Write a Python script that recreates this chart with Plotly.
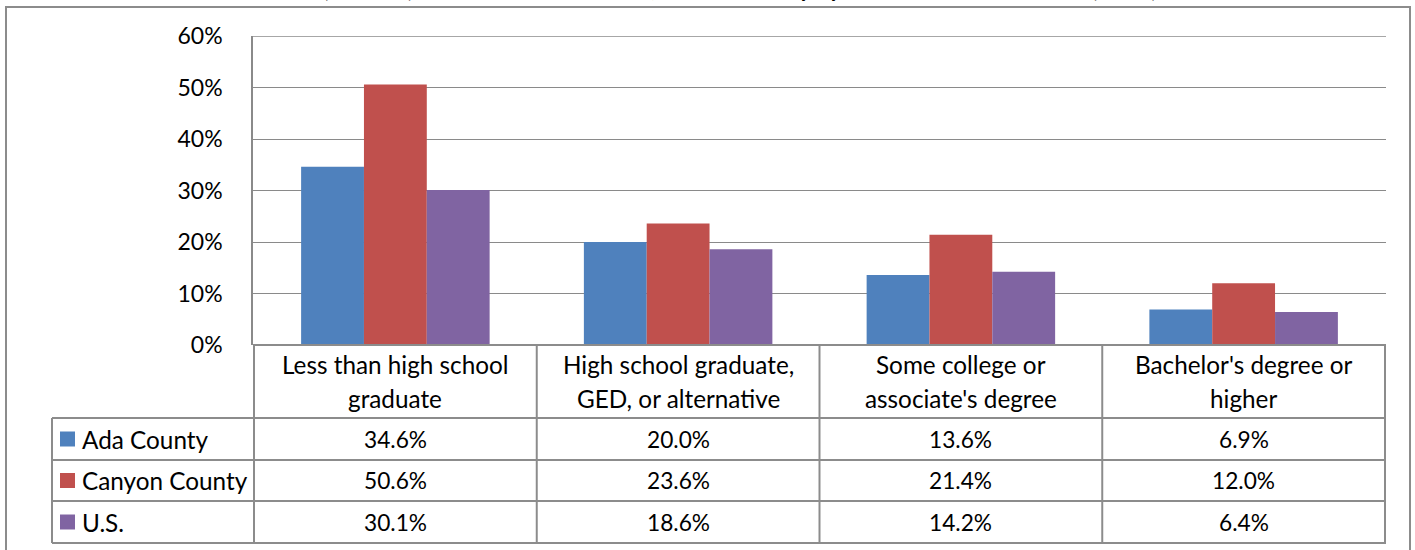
import plotly.graph_objects as go

# Educational attainment groups: header line 1 / line 2 in the data table
categories = [
    "Less than high school graduate",
    "High school graduate, GED, or alternative",
    "Some college or associate's degree",
    "Bachelor's degree or higher",
]
header_line1 = ["Less than high school", "High school graduate,", "Some college or", "Bachelor's degree or"]
header_line2 = ["graduate", "GED, or alternative", "associate's degree", "higher"]
series_names = ["Ada County", "Canyon County", "U.S."]
ada_county = [0.346, 0.200, 0.136, 0.069]
canyon_county = [0.506, 0.236, 0.214, 0.120]
us_total = [0.301, 0.186, 0.142, 0.064]
y_ticks = [0.0, 0.1, 0.2, 0.3, 0.4, 0.5, 0.6]

series_values = [ada_county, canyon_county, us_total]
colors = ["#4F81BD", "#C0504D", "#8064A2"]

W, H = 1415, 550
FONT = "Lato"
GRID = "#8a8a8a"
BORDER = "#8c8c8c"
TEXT_SIZE = 24.3
NUM_SIZE = 22.7


def px_x(p):
    return p / W


def px_y(p):
    return 1 - p / H


# Plot area / table geometry in pixels
PLOT_L, PLOT_R = 253, 1386
PLOT_T, PLOT_B = 36, 345
HEADER_B = 418
ROW_BOUNDS = [418, 460, 501, 543]
TABLE_L = 52

fig = go.Figure()
for name, vals, col in zip(series_names, series_values, colors):
    fig.add_trace(go.Bar(
        x=categories, y=vals, name=name, marker=dict(color=col, line=dict(width=0)),
        hoverinfo="skip",
    ))

shapes = []
annotations = []

# Outer chart frame
shapes.append(dict(type="rect", xref="paper", yref="paper",
                   x0=px_x(6), x1=px_x(1410), y0=px_y(7), y1=px_y(600),
                   line=dict(color=BORDER, width=2), fillcolor="rgba(0,0,0,0)", layer="below"))

# Gridline at the top of the value range
shapes.append(dict(type="line", xref="paper", yref="y",
                   x0=px_x(PLOT_L), x1=px_x(PLOT_R), y0=y_ticks[-1], y1=y_ticks[-1],
                   line=dict(color=GRID, width=1.5), layer="below"))

# Table: vertical lines at category boundaries
for i in range(len(categories) + 1):
    shapes.append(dict(type="line", xref="x", yref="paper",
                       x0=i - 0.5, x1=i - 0.5, y0=px_y(PLOT_B), y1=px_y(ROW_BOUNDS[-1]),
                       line=dict(color=BORDER, width=2)))
# Table: left border of the legend column
shapes.append(dict(type="line", xref="paper", yref="paper",
                   x0=px_x(TABLE_L), x1=px_x(TABLE_L), y0=px_y(HEADER_B), y1=px_y(ROW_BOUNDS[-1]),
                   line=dict(color=BORDER, width=2)))
# Table: top line of the header row (category axis baseline)
shapes.append(dict(type="line", xref="paper", yref="paper",
                   x0=px_x(PLOT_L), x1=px_x(PLOT_R), y0=px_y(PLOT_B), y1=px_y(PLOT_B),
                   line=dict(color=BORDER, width=2)))
# Table: row lines
for yb in ROW_BOUNDS:
    shapes.append(dict(type="line", xref="paper", yref="paper",
                       x0=px_x(TABLE_L), x1=px_x(PLOT_R), y0=px_y(yb), y1=px_y(yb),
                       line=dict(color=BORDER, width=2)))

# Header row: category names on two lines
for c, cat in enumerate(categories):
    for line_text, yc in ((header_line1[c], 364), (header_line2[c], 398)):
        annotations.append(dict(xref="x", yref="paper", x=cat, y=px_y(yc),
                                text=line_text, showarrow=False,
                                xanchor="center", yanchor="middle",
                                font=dict(family=FONT, size=TEXT_SIZE, color="#000000")))

# Table rows: legend keys, series names and values
for r, (name, vals, col) in enumerate(zip(series_names, series_values, colors)):
    y_top, y_bot = ROW_BOUNDS[r], ROW_BOUNDS[r + 1]
    yc = (y_top + y_bot) / 2
    shapes.append(dict(type="rect", xref="paper", yref="paper",
                       x0=px_x(60), x1=px_x(75), y0=px_y(yc - 7.5), y1=px_y(yc + 7.5),
                       fillcolor=col, line=dict(width=0)))
    annotations.append(dict(xref="paper", yref="paper", x=px_x(80), y=px_y(yc),
                            text=name, showarrow=False, xanchor="left", yanchor="middle",
                            font=dict(family=FONT, size=TEXT_SIZE, color="#000000")))
    for c, v in enumerate(vals):
        annotations.append(dict(xref="x", yref="paper", x=categories[c], y=px_y(yc),
                                text=f"{v * 100:.1f}%", showarrow=False,
                                xanchor="center", yanchor="middle",
                                font=dict(family=FONT, size=NUM_SIZE, color="#000000")))

# Title (runs off the top of the page, only the descenders show)
annotations.append(dict(xref="paper", yref="paper", x=px_x(713), y=1,
                        text="<b>Rate (Percent) for Adults 25 and Over, Below Poverty by Educational Attainment (2012)</b>",
                        showarrow=False, xanchor="center", yanchor="bottom", yshift=-4,
                        font=dict(family=FONT, size=23, color="#000000")))

fig.update_layout(
    width=W, height=H,
    margin=dict(l=0, r=0, t=0, b=0, pad=0),
    paper_bgcolor="#ffffff", plot_bgcolor="#ffffff",
    barmode="group", bargap=1.5 / 4.5, bargroupgap=0,
    showlegend=False,
    shapes=shapes, annotations=annotations,
    xaxis=dict(domain=[px_x(PLOT_L), px_x(PLOT_R)], showgrid=False, zeroline=False,
               showline=False, ticks="", showticklabels=False, automargin=False),
    yaxis=dict(domain=[px_y(PLOT_B), px_y(PLOT_T)], range=[0, 0.6], tickvals=y_ticks,
               tickformat=".0%", showgrid=True, gridcolor=GRID, gridwidth=1,
               zeroline=False, showline=True, linecolor=GRID, linewidth=1.5,
               ticks="", ticklabelstandoff=24, automargin=False,
               tickfont=dict(family=FONT, size=23, color="#000000")),
)

fig.write_html("out.html")
